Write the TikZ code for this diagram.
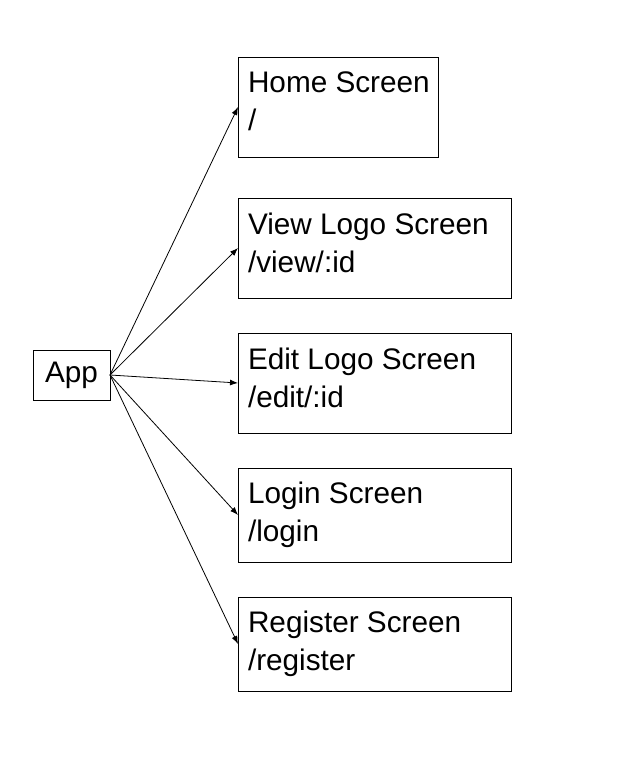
\documentclass[tikz,border=0pt]{standalone}
\usepackage{fontspec}
\setmainfont{Liberation Sans}
\usepackage{tikz}
\usetikzlibrary{arrows.meta,positioning}
\tikzset{
  appbox/.style={rectangle,draw=black,line width=0.75pt,inner sep=0pt,outer sep=0pt,
              minimum width=57.75pt,minimum height=37.5pt,font=\fontsize{22.3}{28.5}\selectfont},
  scr/.style={rectangle,draw=black,line width=0.75pt,outer sep=0pt,inner xsep=7.5pt,inner ysep=0pt,
              text width=189.75pt,minimum height=70.5pt,align=flush left,font=\fontsize{22.3}{28.5}\selectfont},
  tallscr/.style={scr,minimum height=75pt,text depth=37pt},
  route/.style={-{Latex[length=6pt,width=4.5pt]},line width=0.6pt,draw=black},
}

\begin{document}
\begin{tikzpicture}[x=0.75pt,y=-0.75pt]
  \useasboundingbox (0,0) rectangle (636,771);
  \node[appbox] (app) at (71.5,375) {App};
  \node[tallscr,text width=135pt,anchor=north west] (home) at (238,57) {\mbox{Home Screen}\\/};
  \node[tallscr,below=30.75pt of home.south west,anchor=north west] (view) {View Logo Screen\\/view/:id};
  \node[tallscr,below=26.25pt of view.south west,anchor=north west] (edit) {Edit Logo Screen\\/edit/:id};
  \node[scr,below=26.25pt of edit.south west,anchor=north west] (login) {Login Screen\\/login};
  \node[scr,below=26.25pt of login.south west,anchor=north west] (reg) {Register Screen\\/register};

  \draw[route] (app.east) -- (home.west);
  \draw[route] (app.east) -- (view.west);
  \draw[route] (app.east) -- (edit.west);
  \draw[route] (app.east) -- (login.west);
  \draw[route] (app.east) -- (reg.west);
\end{tikzpicture}
\end{document}
